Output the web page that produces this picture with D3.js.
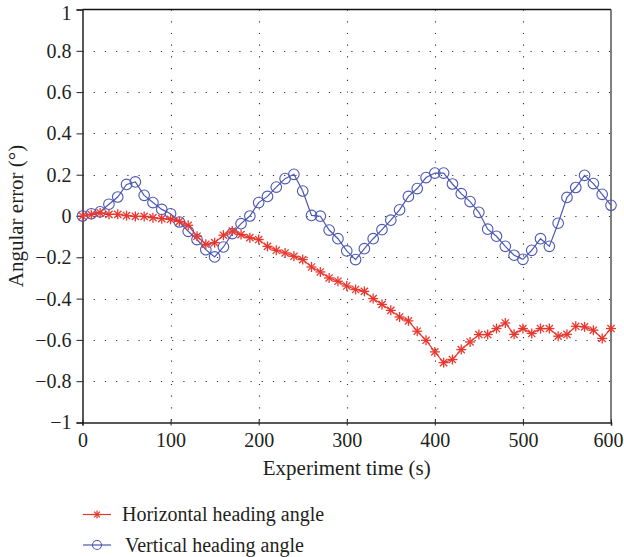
<!DOCTYPE html>
<html>
<head>
<meta charset="utf-8">
<script src="https://cdn.jsdelivr.net/npm/d3@7"></script>
<style>
  body { margin: 0; background: #fff; }
  svg text { font-family: "Liberation Serif", "DejaVu Serif", serif !important; fill: #231f20; }
</style>
</head>
<body>
<div id="container" style="width:624px;height:557px"></div>
<script>
// time axis, sampled every 10 s
const times = d3.range(0, 601, 10);

const horizontal = [
  0, 0.007, 0.015, 0.008, 0.008, 0.002, -0.002, -0.002, -0.008, -0.013,
  -0.016, -0.026, -0.045, -0.098, -0.137, -0.129, -0.093, -0.073, -0.09, -0.105,
  -0.114, -0.147, -0.166, -0.179, -0.195, -0.211, -0.247, -0.271, -0.3, -0.316,
  -0.339, -0.356, -0.365, -0.4, -0.428, -0.457, -0.489, -0.508, -0.558, -0.602,
  -0.658, -0.71, -0.695, -0.647, -0.61, -0.574, -0.574, -0.545, -0.518, -0.573,
  -0.545, -0.569, -0.545, -0.545, -0.582, -0.573, -0.534, -0.537, -0.553, -0.593,
  -0.545
];

const vertical = [
  0, 0.011, 0.02, 0.057, 0.092, 0.153, 0.165, 0.1, 0.065, 0.032,
  0.011, -0.029, -0.074, -0.114, -0.163, -0.198, -0.15, -0.085, -0.037, 0.0,
  0.065, 0.095, 0.14, 0.181, 0.202, 0.121, 0.003, -0.001, -0.068, -0.11,
  -0.169, -0.211, -0.158, -0.11, -0.066, -0.02, 0.03, 0.095, 0.133, 0.186,
  0.208, 0.208, 0.155, 0.108, 0.07, 0.018, -0.064, -0.098, -0.147, -0.19,
  -0.21, -0.166, -0.11, -0.147, -0.035, 0.09, 0.138, 0.197, 0.157, 0.105,
  0.052
];

const xTicks = [0, 100, 200, 300, 400, 500, 600];
const yTicks = [-1, -0.8, -0.6, -0.4, -0.2, 0, 0.2, 0.4, 0.6, 0.8, 1];
const seriesNames = ["Horizontal heading angle", "Vertical heading angle"];

const red = "#e8372e";
const blue = "#4b57b3";
const serif = "'Liberation Serif', 'DejaVu Serif', serif";

const width = 624, height = 557;
const margin = { left: 82.5, right: 13, top: 9.5, bottom: 134.5 };

const svg = d3.select("#container")
    .append("svg")
    .attr("width", width)
    .attr("height", height);

const x = d3.scaleLinear().domain([0, 600]).range([margin.left, width - margin.right]);
const y = d3.scaleLinear().domain([-1, 1]).range([height - margin.bottom, margin.top]);

// dotted grid
const grid = svg.append("g").attr("stroke", "#333").attr("stroke-width", 1.1);
grid.selectAll("line.gx")
    .data(xTicks.slice(1, -1))
    .join("line")
    .attr("x1", d => Math.round(x(d)) + 0.5).attr("x2", d => Math.round(x(d)) + 0.5)
    .attr("y1", y(1)).attr("y2", y(-1))
    .attr("stroke-dasharray", "1.2,10.5");
grid.selectAll("line.gy")
    .data(yTicks.slice(1, -1))
    .join("line")
    .attr("y1", d => Math.round(y(d)) + 0.5).attr("y2", d => Math.round(y(d)) + 0.5)
    .attr("x1", x(0)).attr("x2", x(600))
    .attr("stroke-dasharray", "1.2,10");

// frame top and right
svg.append("line")
    .attr("x1", x(0)).attr("x2", x(600)).attr("y1", y(1)).attr("y2", y(1))
    .attr("stroke", "#111").attr("stroke-width", 1.3);
svg.append("line")
    .attr("x1", x(600)).attr("x2", x(600)).attr("y1", y(1)).attr("y2", y(-1))
    .attr("stroke", "#555").attr("stroke-width", 1.5);

// axes
const xAxis = svg.append("g")
    .attr("transform", `translate(0,${y(-1)})`)
    .call(d3.axisBottom(x).tickValues(xTicks).tickSize(3).tickPadding(7).tickFormat(d3.format("d")));
xAxis.attr("font-family", null);
xAxis.select(".domain").attr("stroke", "#222").attr("stroke-width", 1.5);
xAxis.selectAll(".tick line").attr("y1", -3).attr("stroke", "#222");
xAxis.selectAll("text").style("font-size", "20px").style("font-family", serif).attr("fill", "#231f20");
// keep the last label inside the page
xAxis.selectAll("text").filter(d => d === 600).attr("text-anchor", "end").attr("x", width - x(600) - 1);

const yAxis = svg.append("g")
    .attr("transform", `translate(${x(0)},0)`)
    .call(d3.axisLeft(y).tickValues(yTicks).tickSize(6).tickPadding(5)
        .tickFormat(d => d === 0 ? "0" : d3.format("")(d).replace("-", "\u2212")));
yAxis.attr("font-family", null);
yAxis.select(".domain").attr("stroke", "#222").attr("stroke-width", 1.5);
yAxis.selectAll(".tick line").attr("stroke", "#222");
yAxis.selectAll("text").style("font-size", "20px").style("font-family", serif).attr("fill", "#231f20");
yAxis.selectAll("text").filter(d => d === 1).attr("dy", "0.5em");

// axis titles
svg.append("text")
    .attr("x", x(300)).attr("y", 475)
    .attr("text-anchor", "middle")
    .style("font-size", "21px")
    .text("Experiment time (s)");
svg.append("text")
    .attr("transform", `translate(23,${y(0)}) rotate(-90)`)
    .attr("text-anchor", "middle")
    .style("font-size", "21px")
    .text("Angular error (\u00b0)");

// markers
function star(g, cx, cy, r) {
    [[-r, 0, r, 0], [0, -r, 0, r], [-r * 0.72, -r * 0.72, r * 0.72, r * 0.72], [-r * 0.72, r * 0.72, r * 0.72, -r * 0.72]]
        .forEach(s => g.append("line")
            .attr("x1", cx + s[0]).attr("y1", cy + s[1])
            .attr("x2", cx + s[2]).attr("y2", cy + s[3]));
}

const line = d3.line().x((d, i) => x(times[i])).y(d => y(d));

const plot = svg.append("g");

// vertical heading angle
plot.append("path")
    .datum(vertical)
    .attr("d", line)
    .attr("fill", "none")
    .attr("stroke", blue)
    .attr("stroke-width", 1.2);
plot.append("g")
    .selectAll("circle")
    .data(vertical)
    .join("circle")
    .attr("cx", (d, i) => x(times[i]))
    .attr("cy", d => y(d))
    .attr("r", 5.3)
    .attr("fill", "none")
    .attr("stroke", blue)
    .attr("stroke-width", 1.1);

// horizontal heading angle
plot.append("path")
    .datum(horizontal)
    .attr("d", line)
    .attr("fill", "none")
    .attr("stroke", red)
    .attr("stroke-width", 1.2);
const stars = plot.append("g").attr("stroke", red).attr("stroke-width", 1.3);
horizontal.forEach((d, i) => star(stars, x(times[i]), y(d), 5));

// legend
const legend = svg.append("g");
const legendRows = [
    { name: seriesNames[0], color: red, y: 514.5, tx: 122 },
    { name: seriesNames[1], color: blue, y: 545, tx: 125 }
];
legendRows.forEach((row, i) => {
    legend.append("line")
        .attr("x1", 83).attr("x2", 111).attr("y1", row.y).attr("y2", row.y)
        .attr("stroke", row.color).attr("stroke-width", 1.2);
    if (i === 0) {
        const g = legend.append("g").attr("stroke", row.color).attr("stroke-width", 1.2);
        star(g, 97, row.y, 4);
    } else {
        legend.append("circle").attr("cx", 97).attr("cy", row.y).attr("r", 4.5)
            .attr("fill", "none").attr("stroke", row.color).attr("stroke-width", 1.1);
    }
    legend.append("text")
        .attr("x", row.tx).attr("y", row.y + 6.5)
        .style("font-size", "20px")
        .text(row.name);
});
</script>
</body>
</html>
